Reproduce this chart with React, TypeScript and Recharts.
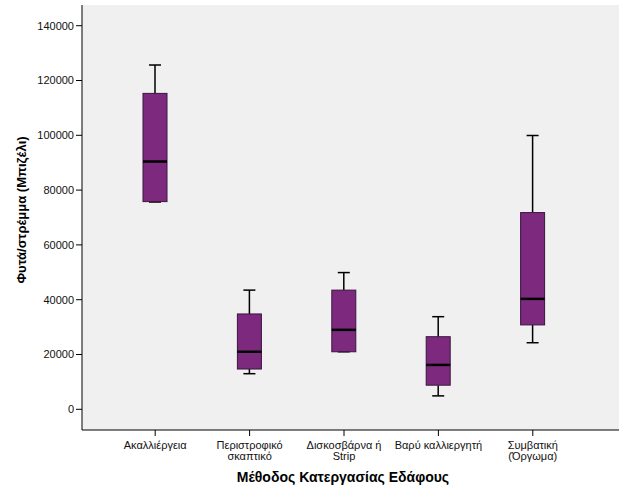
import { Bar, CartesianGrid, ComposedChart, XAxis, YAxis } from 'recharts'

// soil tillage methods (x categories)
const methods = [
    'Ακαλλιέργεια',
    'Περιστροφικό\nσκαπτικό',
    'Δισκοσβάρνα ή\nStrip',
    'Βαρύ καλλιεργητή',
    'Συμβατική\n(Όργωμα)',
]
// box plot statistics, plants per stremma
const whiskerLow = [75700, 13000, 21000, 4900, 24300]
const q1 = [75800, 14700, 21000, 8800, 30800]
const median = [90400, 21000, 29000, 16200, 40300]
const q3 = [115300, 34800, 43500, 26500, 71800]
const whiskerHigh = [125700, 43500, 49900, 33800, 99900]
const yTicks = [0, 20000, 40000, 60000, 80000, 100000, 120000, 140000]

const data = methods.map((name, i) => ({
    name,
    low: whiskerLow[i],
    q1: q1[i],
    median: median[i],
    q3: q3[i],
    high: whiskerHigh[i],
}))

const FONT = '"Liberation Sans", Arial, sans-serif'
const BOX_FILL = '#7d2a7e'
const BOX_STROKE = '#3a1540'

const BoxShape = (props: any) => {
    const { x, y, width, height, payload } = props
    const top = Math.min(y, y + height)
    const h = Math.abs(height)
    const span = payload.high - payload.low
    const toY = (v: number) => top + (h * (payload.high - v)) / span
    const cx = x + width / 2
    const cap = 6
    const yHigh = toY(payload.high)
    const yLow = toY(payload.low)
    const yQ3 = toY(payload.q3)
    const yQ1 = toY(payload.q1)
    const yMed = toY(payload.median)
    return (
        <g>
            <line x1={cx} x2={cx} y1={yHigh} y2={yQ3} stroke="#000" strokeWidth={1.5} />
            <line x1={cx} x2={cx} y1={yQ1} y2={yLow} stroke="#000" strokeWidth={1.5} />
            <line x1={cx - cap} x2={cx + cap} y1={yHigh} y2={yHigh} stroke="#000" strokeWidth={1.5} />
            <line x1={cx - cap} x2={cx + cap} y1={yLow} y2={yLow} stroke="#000" strokeWidth={1.5} />
            <rect x={x} y={yQ3} width={width} height={yQ1 - yQ3} fill={BOX_FILL} stroke={BOX_STROKE} strokeWidth={1} />
            <line x1={x} x2={x + width} y1={yMed} y2={yMed} stroke="#000" strokeWidth={2.5} />
        </g>
    )
}

const MethodTick = ({ x, y, payload }: any) => {
    const lines = String(payload.value).split('\n')
    return (
        <text x={x} y={y} textAnchor="middle" fontSize={11} fill="#111" fontFamily={FONT}>
            {lines.map((l, i) => (
                <tspan key={i} x={x} dy={i === 0 ? '0.71em' : 11}>{l}</tspan>
            ))}
        </text>
    )
}

const App = () => {
    return (
        <div style={{ position: 'absolute', left: 0, top: 0, background: '#fff' }}>
            <ComposedChart
                width={626}
                height={501}
                data={data}
                margin={{ top: 5, right: 7, left: 0, bottom: 0 }}
                style={{ fontFamily: FONT }}
            >
                <CartesianGrid fill="#f0f0f0" horizontal={false} vertical={false} />
                <XAxis
                    dataKey="name"
                    height={71}
                    padding={{ left: 26, right: 39 }}
                    tickSize={6}
                    tickMargin={5}
                    tick={<MethodTick />}
                    interval={0}
                    axisLine={{ stroke: '#000' }}
                    tickLine={{ stroke: '#000' }}
                    label={{
                        content: () => (
                            <text x={343} y={482} textAnchor="middle" fontSize={14} fontWeight="bold" fill="#000" fontFamily={FONT}>
                                Μέθοδος Κατεργασίας Εδάφους
                            </text>
                        ),
                    }}
                />
                <XAxis xAxisId="top" orientation="top" height={0} tick={false} tickLine={false} axisLine={{ stroke: '#777' }} />
                <YAxis
                    width={82}
                    domain={[-7555, 147560]}
                    ticks={yTicks}
                    allowDataOverflow
                    tickSize={6}
                    tickMargin={2}
                    tick={{ fontSize: 11, fill: '#111' }}
                    axisLine={{ stroke: '#000' }}
                    tickLine={{ stroke: '#000' }}
                    label={{
                        content: () => (
                            <text
                                x={21}
                                y={210}
                                transform="rotate(-90, 21, 210)"
                                textAnchor="middle"
                                dominantBaseline="central"
                                fontSize={13}
                                fontWeight="bold"
                                fill="#000"
                                fontFamily={FONT}
                            >
                                Φυτά/στρέμμα (Μπιζέλι)
                            </text>
                        ),
                    }}
                />
                <YAxis yAxisId="right" orientation="right" width={0} tick={false} tickLine={false} axisLine={{ stroke: '#777' }} />
                <Bar
                    dataKey={(d: any) => [d.low, d.high]}
                    barSize={24}
                    shape={<BoxShape />}
                    isAnimationActive={false}
                />
            </ComposedChart>
        </div>
    )
}

export default App
